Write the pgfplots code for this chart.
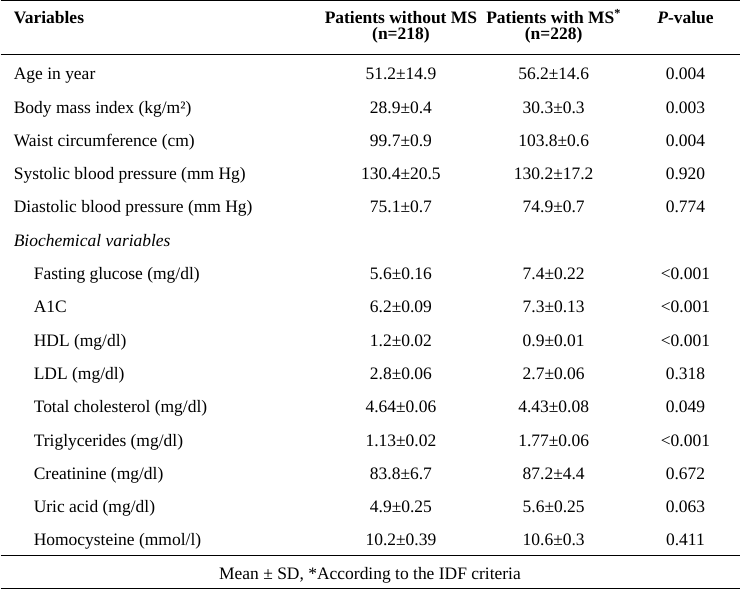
\documentclass[border=0pt]{standalone}
\usepackage{fontspec}
\setmainfont{Liberation Serif}
\usepackage{pgfplots}
\usepackage{pgfplotstable}
\pgfplotsset{compat=1.18}
\newcommand{\fs}{\fontsize{17.5}{20}\selectfont}

\pgfplotstableread[col sep=semicolon]{
x;y;label
13;78;Age in year
13;111.4;Body mass index (kg/m²)
13;144.7;Waist circumference (cm)
13;178;Systolic blood pressure (mm Hg)
13;211.4;Diastolic blood pressure (mm Hg)
13;244.7;\textit{Biochemical variables}
33;278;Fasting glucose (mg/dl)
33;311.5;A1C
33;344.8;HDL (mg/dl)
33;378;LDL (mg/dl)
33;411.5;Total cholesterol (mg/dl)
33;445;Triglycerides (mg/dl)
33;478;Creatinine (mg/dl)
33;511.7;Uric acid (mg/dl)
33;545;Homocysteine (mmol/l)
}\leftcol

\pgfplotstableread[col sep=semicolon]{
x;y;label
401;78;51.2±14.9
401;111.4;28.9±0.4
401;144.7;99.7±0.9
401;178;130.4±20.5
401;211.4;75.1±0.7
401;278;5.6±0.16
401;311.5;6.2±0.09
401;344.8;1.2±0.02
401;378;2.8±0.06
401;411.5;4.64±0.06
401;445;1.13±0.02
401;478;83.8±6.7
401;511.7;4.9±0.25
401;545;10.2±0.39
554;78;56.2±14.6
554;111.4;30.3±0.3
554;144.7;103.8±0.6
554;178;130.2±17.2
554;211.4;74.9±0.7
554;278;7.4±0.22
554;311.5;7.3±0.13
554;344.8;0.9±0.01
554;378;2.7±0.06
554;411.5;4.43±0.08
554;445;1.77±0.06
554;478;87.2±4.4
554;511.7;5.6±0.25
554;545;10.6±0.3
686;78;0.004
686;111.4;0.003
686;144.7;0.004
686;178;0.920
686;211.4;0.774
686;278;<0.001
686;311.5;<0.001
686;344.8;<0.001
686;378;0.318
686;411.5;0.049
686;445;<0.001
686;478;0.672
686;511.7;0.063
686;545;0.411
370;579;Mean ± SD, *According to the IDF criteria
}\centercol

\pgfplotstableread[col sep=semicolon]{
x;y;label
401;22;Patients without MS
401;38;(n=218)
554;22;Patients with MS\textsuperscript{*}
554;38;(n=228)
686;22;\textit{P}-value
}\headcenter

\pgfplotstableread[col sep=semicolon]{
x;y;label
13;22;Variables
}\headleft

\begin{document}
\begin{tikzpicture}
\begin{axis}[
  width=741pt, height=591pt, scale only axis,
  xmin=0, xmax=741, ymin=0, ymax=591,
  y dir=reverse, hide axis, clip=false,
]
\addplot[black, line width=1.3pt] coordinates {(0,1) (741,1)};
\addplot[black, line width=1.3pt] coordinates {(0,55) (741,55)};
\addplot[black, line width=1.3pt] coordinates {(0,557) (741,557)};
\addplot[black, line width=1.3pt] coordinates {(0,590) (741,590)};

\addplot[black, only marks, mark=none, nodes near coords, point meta=explicit symbolic,
  every node near coord/.append style={anchor=mid west, inner sep=0pt, font=\fs, text=black}]
  table[x=x, y=y, meta=label] {\leftcol};
\addplot[black, only marks, mark=none, nodes near coords, point meta=explicit symbolic,
  every node near coord/.append style={anchor=mid, inner sep=0pt, font=\fs, text=black}]
  table[x=x, y=y, meta=label] {\centercol};
\addplot[black, only marks, mark=none, nodes near coords, point meta=explicit symbolic,
  every node near coord/.append style={anchor=mid, inner sep=0pt, font=\fs\bfseries, text=black}]
  table[x=x, y=y, meta=label] {\headcenter};
\addplot[black, only marks, mark=none, nodes near coords, point meta=explicit symbolic,
  every node near coord/.append style={anchor=mid west, inner sep=0pt, font=\fs\bfseries, text=black}]
  table[x=x, y=y, meta=label] {\headleft};
\end{axis}
\end{tikzpicture}
\end{document}
